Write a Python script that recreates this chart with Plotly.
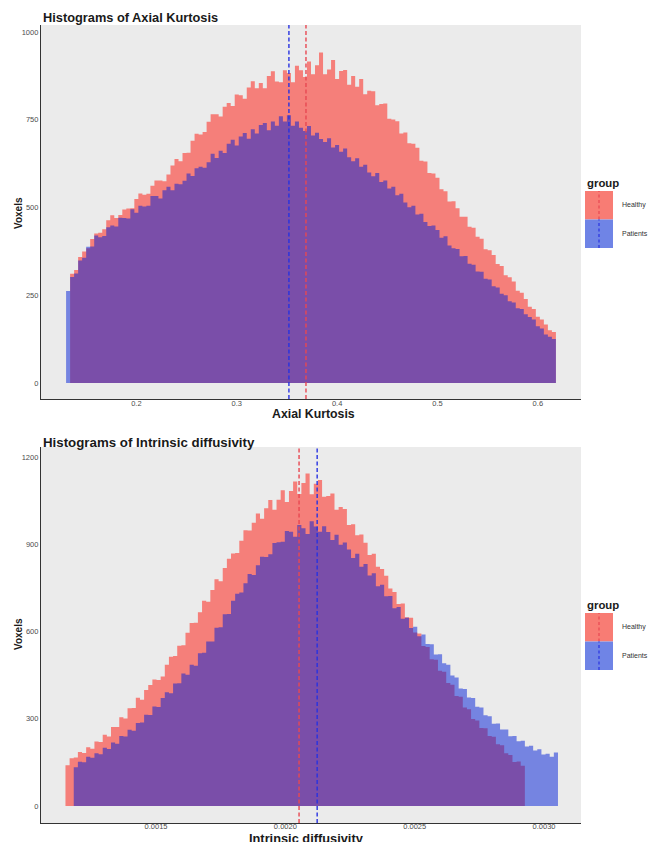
import plotly.graph_objects as go

W, H = 654, 842

# ---------------- data: Axial Kurtosis ----------------
ak_bin_start = 0.130
ak_bin_width = 0.004
ak_healthy = [
    0, 311, 322, 359, 375, 384, 410, 426, 428, 438,
    464, 478, 470, 479, 494, 497, 498, 524, 540, 536,
    539, 562, 577, 577, 575, 594, 620, 638, 632, 655,
    656, 690, 710, 708, 715, 744, 766, 766, 759, 787,
    798, 789, 822, 820, 810, 842, 860, 840, 855, 840,
    875, 888, 859, 857, 891, 883, 857, 904, 891, 872,
    916, 880, 905, 942, 880, 893, 920, 866, 889, 892,
    850, 875, 844, 866, 823, 833, 831, 791, 795, 796,
    753, 751, 746, 711, 714, 683, 682, 670, 633, 631,
    598, 597, 585, 552, 546, 517, 518, 498, 474, 474,
    445, 442, 417, 411, 381, 378, 365, 339, 333, 307,
    301, 289, 263, 257, 239, 217, 211, 189, 181, 167,
    150, 145]
ak_patients = [
    262, 302, 312, 349, 357, 388, 389, 420, 415, 419,
    444, 449, 446, 471, 470, 469, 495, 485, 505, 503,
    505, 533, 533, 526, 549, 559, 549, 568, 566, 576,
    597, 590, 612, 616, 613, 629, 653, 641, 662, 655,
    682, 693, 677, 702, 712, 696, 723, 711, 735, 741,
    720, 745, 733, 760, 745, 763, 733, 745, 727, 718,
    732, 705, 713, 695, 687, 697, 671, 678, 659, 668,
    643, 632, 640, 616, 622, 600, 589, 598, 573, 577,
    554, 559, 535, 539, 514, 501, 505, 480, 482, 459,
    447, 449, 436, 414, 418, 392, 384, 382, 361, 362,
    340, 337, 318, 317, 297, 295, 276, 272, 254, 250,
    233, 229, 213, 211, 196, 188, 181, 162, 155, 138,
    132, 125]
ak_mean_healthy = 0.369
ak_mean_patients = 0.352
ak_xticks = [0.2, 0.3, 0.4, 0.5, 0.6]
ak_xticklabels = ["0.2", "0.3", "0.4", "0.5", "0.6"]
ak_yticks = [0, 250, 500, 750, 1000]

# ---------------- data: Intrinsic diffusivity ----------------
id_bin_start = 0.00115
id_bin_width = 0.000016
id_healthy = [
    140, 164, 167, 186, 182, 202, 197, 222, 220, 245,
    239, 272, 272, 305, 301, 336, 337, 372, 365, 399,
    416, 435, 433, 445, 486, 513, 516, 551, 553, 596,
    629, 630, 666, 706, 702, 743, 780, 773, 818, 850,
    868, 870, 912, 948, 947, 974, 1006, 988, 1024, 1052,
    1019, 1053, 1086, 1045, 1083, 1116, 1073, 1111, 1143, 1072,
    1108, 1121, 1063, 1066, 1075, 1019, 1028, 1021, 966, 969,
    931, 934, 905, 863, 867, 823, 815, 792, 748, 736,
    695, 696, 649, 647, 597, 593, 550, 547, 505, 503,
    465, 462, 423, 417, 378, 376, 339, 333, 299, 294,
    268, 267, 241, 238, 212, 209, 181, 175, 151, 153,
    138, 0, 0, 0, 0, 0, 0, 0, 0]
id_patients = [
    0, 0, 133, 152, 150, 169, 166, 181, 178, 200,
    196, 218, 214, 241, 239, 262, 259, 285, 287, 314,
    313, 342, 340, 371, 391, 388, 421, 422, 456, 451,
    486, 482, 525, 527, 566, 566, 613, 615, 659, 660,
    706, 730, 734, 766, 798, 794, 828, 857, 856, 866,
    904, 907, 909, 946, 943, 926, 966, 955, 935, 979,
    961, 943, 962, 942, 915, 933, 898, 906, 882, 853,
    867, 823, 832, 793, 800, 756, 761, 721, 722, 680,
    684, 644, 647, 612, 616, 584, 590, 557, 556, 521,
    522, 491, 486, 449, 442, 404, 402, 373, 371, 341,
    339, 312, 309, 283, 284, 263, 263, 240, 241, 223,
    224, 205, 207, 191, 195, 177, 180, 169, 184]
id_mean_healthy = 0.002053
id_mean_patients = 0.002123
id_xticks = [0.0015, 0.0020, 0.0025, 0.0030]
id_xticklabels = ["0.0015", "0.0020", "0.0025", "0.0030"]
id_yticks = [0, 300, 600, 900, 1200]

groups = ["Healthy", "Patients"]

# ---------------- styles ----------------
FILL = {"Healthy": "rgba(255,20,10,0.5)", "Patients": "rgba(0,30,215,0.5)"}
KEY = {"Healthy": "#F87C74", "Patients": "#6F84E6"}
VLINE = {"Healthy": "rgb(232,72,82)", "Patients": "rgb(40,50,225)"}
FONT = "Liberation Sans, Arial, sans-serif"
PANEL = "#EBEBEB"


def px_x(p):
    return p / W


def px_y(p):
    return 1 - p / H


def step_trace(start, width, vals, name, xa, ya):
    edges = [start + i * width for i in range(len(vals) + 1)]
    return go.Scatter(
        x=edges, y=list(vals) + [vals[-1]], mode="lines", line_shape="hv",
        line=dict(width=0), fill="tozeroy", fillcolor=FILL[name],
        name=name, showlegend=False, xaxis=xa, yaxis=ya, hoverinfo="skip")


fig = go.Figure()
fig.add_trace(step_trace(ak_bin_start, ak_bin_width, ak_healthy, "Healthy", "x", "y"))
fig.add_trace(step_trace(ak_bin_start, ak_bin_width, ak_patients, "Patients", "x", "y"))
fig.add_trace(step_trace(id_bin_start, id_bin_width, id_healthy, "Healthy", "x2", "y2"))
fig.add_trace(step_trace(id_bin_start, id_bin_width, id_patients, "Patients", "x2", "y2"))

axis_common = dict(showline=True, linecolor="#333333", linewidth=1.2, ticks="",
                   showgrid=False, zeroline=False,
                   tickfont=dict(family=FONT, size=7.5, color="#4D4D4D"))

fig.update_layout(
    width=W, height=H, autosize=False,
    margin=dict(l=0, r=0, t=0, b=0),
    paper_bgcolor="white", plot_bgcolor=PANEL,
    showlegend=False,
    xaxis=dict(domain=[px_x(41), px_x(581)], range=[0.105, 0.643], anchor="y",
               tickvals=ak_xticks, ticktext=ak_xticklabels, ticklabelstandoff=-3,
               **axis_common),
    yaxis=dict(domain=[px_y(399), px_y(25)], range=[-45.6, 1020], anchor="x",
               tickvals=ak_yticks, **axis_common),
    xaxis2=dict(domain=[px_x(41), px_x(581)], range=[0.0010554, 0.003143], anchor="y2",
                tickvals=id_xticks, ticktext=id_xticklabels, ticklabelstandoff=-4,
                **axis_common),
    yaxis2=dict(domain=[px_y(823), px_y(447)], range=[-58.5, 1234.5], anchor="x2",
                tickvals=id_yticks, **axis_common),
)

shapes = []
for xa, ya, means in [("x", "y", {"Healthy": ak_mean_healthy, "Patients": ak_mean_patients}),
                      ("x2", "y2", {"Healthy": id_mean_healthy, "Patients": id_mean_patients})]:
    for g in groups:
        shapes.append(dict(type="line", xref=xa, yref=ya + " domain", x0=means[g], x1=means[g],
                           y0=0, y1=1, line=dict(color=VLINE[g], width=1.4, dash="4px,2.5px")))

annotations = []


def ann(text, x, y, size, bold=False, xanchor="left", color="#1A1A1A", angle=0):
    annotations.append(dict(
        text=("<b>%s</b>" % text) if bold else text, x=px_x(x), y=px_y(y),
        xref="paper", yref="paper", xanchor=xanchor, yanchor="middle",
        showarrow=False, textangle=angle,
        font=dict(family=FONT, size=size, color=color)))


# titles and axis titles
ann("Histograms of Axial Kurtosis", 41, 18, 12.8, bold=True)
ann("Axial Kurtosis", 313, 414, 12.3, bold=True, xanchor="center")
ann("Voxels", 18, 213, 10, bold=True, xanchor="center", angle=-90)
ann("Histograms of Intrinsic diffusivity", 41, 442, 13.3, bold=True)
ann("Intrinsic diffusivity", 306, 838, 12.8, bold=True, xanchor="center")
ann("Voxels", 18, 634, 10, bold=True, xanchor="center", angle=-90)

# legends
for (gy, ry0) in [(183, 191), (605, 613)]:
    ann("group", 585, gy, 11.4, bold=True)
    kh = 28.5
    for i, g in enumerate(groups):
        y0 = ry0 + i * kh
        y1 = y0 + kh
        shapes.append(dict(type="rect", xref="paper", yref="paper",
                           x0=px_x(585), x1=px_x(613), y0=px_y(y1), y1=px_y(y0),
                           fillcolor=KEY[g], line=dict(width=0)))
        shapes.append(dict(type="line", xref="paper", yref="paper",
                           x0=px_x(599), x1=px_x(599), y0=px_y(y1), y1=px_y(y0),
                           line=dict(color=VLINE[g], width=1.2, dash="3px,2.5px")))
        ann(g, 620, (y0 + y1) / 2, 7, color="#333333")

fig.update_layout(shapes=shapes, annotations=annotations)
fig.write_html("out.html")
